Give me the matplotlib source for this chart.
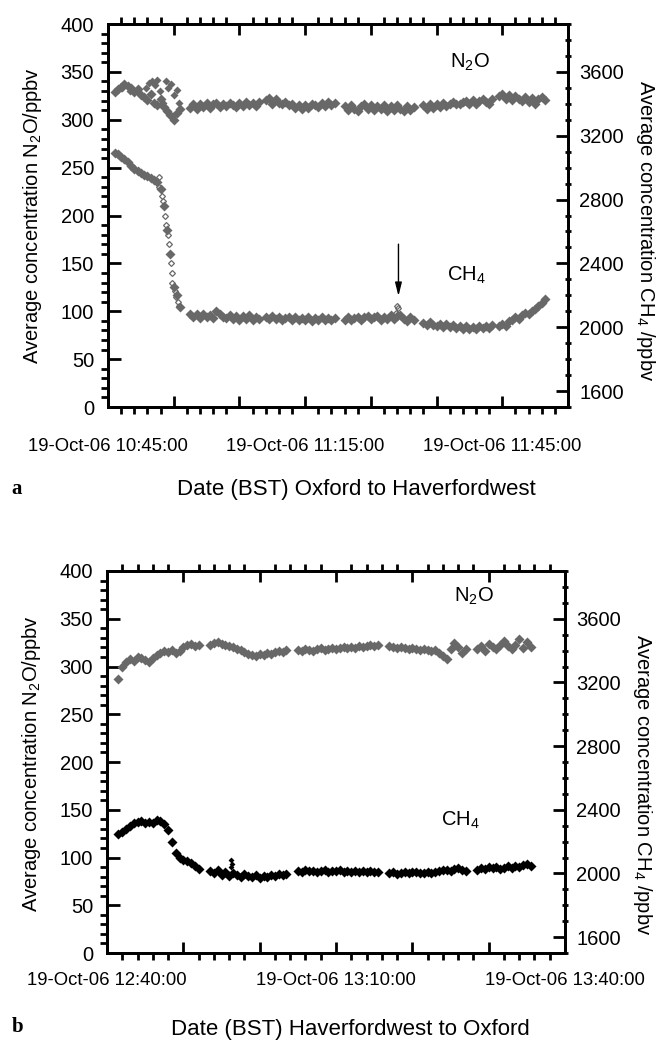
import numpy as np
import matplotlib
matplotlib.use("Agg")
import matplotlib.pyplot as plt
from matplotlib.ticker import MultipleLocator, FuncFormatter

plt.rcParams["font.family"] = ["Liberation Sans", "DejaVu Sans"]
plt.rcParams["mathtext.default"] = "regular"

STEP = 0.5  # minutes between samples

# ---- panel a: Oxford to Haverfordwest (minutes after 10:45) ----
a_start = [1.0, 12.5, 24.0, 36.0, 48.0, 59.5]
a_n2o = [
    [329, 332, 334, 337, 335, 333, 329, 332, 326, 324, 321, 327, 318, 315, 322, 313, 309, 305, 300, 307, 311],
    [312, 316, 311, 316, 313, 318, 312, 316, 318, 313, 317, 314, 318, 315, 313, 318, 314, 319, 315, 318, 314, 319],
    [321, 323, 317, 322, 318, 316, 319, 315, 316, 312, 315, 311, 315, 312, 316, 315, 313, 318, 314, 319, 315, 318],
    [314, 310, 315, 311, 309, 314, 316, 311, 315, 310, 314, 311, 315, 309, 314, 310, 315, 311, 309, 314, 310, 313],
    [315, 311, 316, 312, 317, 313, 318, 314, 317, 319, 316, 317, 319, 320, 316, 321, 317, 320, 322, 319, 317, 322],
    [325, 327, 322, 326, 321, 325, 322, 320, 324, 319, 323, 317, 322, 324, 321],
]
a_n2o_extra_t = [2.2, 3.3, 4.6, 5.8, 6.3, 6.7, 7.1, 7.5, 7.9, 8.3, 8.8, 9.2, 9.6, 9.9, 10.1, 10.5, 10.8]
a_n2o_extra = [333, 330, 329, 333, 338, 341, 336, 342, 330, 318, 340, 333, 337, 304, 326, 331, 318]

a_ch4 = [
    [3090, 3084, 3066, 3054, 3036, 3012, 2994, 2976, 2964, 2952, 2946, 2934, 2922, 2910, 2868, 2760, 2610, 2460, 2250, 2202, 2124],
    [2084, 2066, 2080, 2060, 2082, 2066, 2078, 2058, 2104, 2080, 2062, 2058, 2074, 2052, 2068, 2048, 2070, 2054, 2076, 2046, 2064, 2050],
    [2066, 2054, 2070, 2050, 2064, 2046, 2060, 2066, 2048, 2062, 2044, 2060, 2048, 2064, 2042, 2058, 2046, 2062, 2044, 2058, 2046, 2060],
    [2048, 2064, 2044, 2060, 2066, 2046, 2062, 2068, 2050, 2064, 2070, 2048, 2066, 2054, 2074, 2052, 2068, 2076, 2050, 2042, 2062, 2046],
    [2028, 2012, 2034, 2016, 2008, 2022, 2004, 2018, 2000, 2014, 1996, 2010, 1992, 2006, 1990, 2004, 1992, 2008, 1994, 2010, 1996, 2012],
    [2006, 2022, 2010, 2038, 2046, 2062, 2050, 2076, 2092, 2082, 2102, 2114, 2132, 2152, 2174],
]
a_ch4_extra_t = [7.7, 7.8, 8.2, 8.3, 8.7, 8.8, 9.2, 9.3, 9.6, 9.7, 9.8, 10.2, 10.3, 10.7, 10.8, 43.8, 44.0, 44.1]
a_ch4_extra = [2940, 2880, 2820, 2790, 2700, 2640, 2580, 2520, 2400, 2340, 2280, 2230, 2190, 2160, 2130, 2090, 2136, 2120]

# ---- panel b: Haverfordwest to Oxford (minutes after 12:40) ----
b_start = [1.5, 13.5, 25.0, 37.0, 48.5]
b_n2o = [
    [287, 299, 305, 308, 306, 310, 309, 307, 305, 309, 312, 314, 316, 315, 317, 314, 316, 320, 323, 324, 321, 322],
    [322, 325, 326, 324, 323, 321, 320, 318, 317, 315, 313, 312, 311, 313, 312, 314, 313, 315, 316, 315, 317],
    [317, 316, 318, 317, 316, 318, 319, 317, 318, 319, 318, 319, 320, 319, 320, 319, 321, 320, 321, 322, 321, 323],
    [321, 320, 319, 320, 319, 318, 319, 318, 317, 318, 317, 316, 317, 314, 311, 308, 318, 325, 320, 314, 318],
    [318, 321, 316, 324, 320, 318, 322, 327, 321, 318, 322, 329, 319, 326, 320],
]
b_ch4 = [
    [2250, 2262, 2280, 2298, 2316, 2322, 2328, 2316, 2322, 2316, 2334, 2328, 2310, 2274, 2196, 2130, 2094, 2082, 2076, 2064, 2046, 2028],
    [2016, 2004, 2022, 1992, 2010, 1986, 2004, 1992, 1980, 1998, 1986, 1980, 1992, 1974, 1986, 1980, 1992, 1986, 1998, 1992, 1998],
    [2016, 2010, 2022, 2014, 2018, 2010, 2016, 2020, 2012, 2018, 2014, 2020, 2012, 2016, 2010, 2018, 2012, 2016, 2008, 2014, 2010, 2012],
    [2002, 2006, 1998, 2004, 2008, 2002, 2010, 2006, 2004, 2000, 2008, 2004, 2010, 2016, 2024, 2020, 2014, 2030, 2036, 2024, 2018],
    [2024, 2036, 2030, 2040, 2034, 2042, 2028, 2036, 2044, 2032, 2046, 2040, 2052, 2058, 2046],
]
b_ch4_extra_t = [16.25, 16.3, 16.35]
b_ch4_extra = [2040, 2082, 2058]

GRAY = "#686868"
MS = 5.2


def flatten(starts, segs):
    t, v = [], []
    for s, vals in zip(starts, segs):
        t.extend(s + STEP * np.arange(len(vals)))
        v.extend(vals)
    return np.array(t), np.array(v)


def time_fmt(h0, m0, shown):
    def f(x, pos):
        if int(round(x)) not in shown:
            return ""
        tot = h0 * 60 + m0 + int(round(x))
        return "19-Oct-06 %02d:%02d:00" % (tot // 60, tot % 60)
    return FuncFormatter(f)


def style(ax, ax2, xmax, h0, m0, xpad):
    ax.set_xlim(0, xmax)
    ax.set_ylim(0, 400)
    ax2.set_ylim(1500, 3900)
    ax.xaxis.set_major_locator(MultipleLocator(10))
    ax.xaxis.set_minor_locator(MultipleLocator(2))
    ax.xaxis.set_major_formatter(time_fmt(h0, m0, [0, 30, 60]))
    ax.yaxis.set_major_locator(MultipleLocator(50))
    ax.yaxis.set_minor_locator(MultipleLocator(10))
    ax2.yaxis.set_minor_locator(MultipleLocator(100))
    ax2.set_yticks([1600, 2000, 2400, 2800, 3200, 3600])
    for a in (ax, ax2):
        for sp in a.spines.values():
            sp.set_linewidth(2)
    ax.tick_params(axis="x", which="major", direction="in", length=8, width=2,
                   top=True, labelsize=13.3, pad=xpad)
    ax.tick_params(axis="x", which="minor", direction="out", length=5, width=2, top=True)
    ax.tick_params(axis="y", which="major", direction="in", length=9, width=2,
                   right=False, labelsize=14.5, pad=10)
    ax.tick_params(axis="y", which="minor", direction="out", length=5, width=2, right=False)
    ax2.tick_params(axis="y", which="major", direction="in", length=9, width=2,
                    labelsize=14.5, pad=8)
    ax2.tick_params(axis="y", which="minor", direction="inout", length=5, width=2)


fig = plt.figure(figsize=(6.61, 10.41), dpi=100)

# panel a
ax = fig.add_axes([0.1634, 0.6090, 0.6959, 0.3679])
ax2 = ax.twinx()
t, v = flatten(a_start, a_n2o)
ax.plot(t, v, "D", ms=MS, color=GRAY, mec="none")
ax.plot(a_n2o_extra_t, a_n2o_extra, "D", ms=3.8, color=GRAY, mec="none")
t, v = flatten(a_start, a_ch4)
ax2.plot(t, v, "D", ms=MS, color=GRAY, mec="none")
ax2.plot(a_ch4_extra_t, a_ch4_extra, "D", ms=3, mfc="none", mec=GRAY, mew=0.9)
style(ax, ax2, 70, 10, 45, 22)
ax.text(55.1, 360, "N$_2$O", fontsize=14.5, ha="center", va="center")
ax.text(54.5, 138, "CH$_4$", fontsize=14.5, ha="center", va="center")
ax.annotate("", xy=(44.2, 113), xytext=(44.2, 173),
            arrowprops=dict(arrowstyle="-|>,head_width=0.2,head_length=0.8",
                            color="black", lw=1))
ax.set_ylabel("Average concentration N$_2$O/ppbv", fontsize=14.5)
ax.yaxis.set_label_coords(-0.139, 0.50)
ax2.set_ylabel("Average concentration CH$_4$ /ppbv", fontsize=14.5, rotation=270, va="bottom")
ax2.yaxis.set_label_coords(1.143, 0.46)
fig.text(17 / 661, 1 - 489 / 1041, "a", fontsize=15, fontweight="bold",
         family="Liberation Serif", ha="center", va="center")
fig.text(356 / 661, 1 - 489 / 1041, "Date (BST) Oxford to Haverfordwest",
         fontsize=16, ha="center", va="center")

# panel b
bx = fig.add_axes([0.1619, 0.0845, 0.6929, 0.3670])
bx2 = bx.twinx()
t, v = flatten(b_start, b_n2o)
bx.plot(t, v, "D", ms=MS, color=GRAY, mec="none")
t, v = flatten(b_start, b_ch4)
bx2.plot(t, v, "D", ms=MS, color="black", mec="none")
bx2.plot(b_ch4_extra_t, b_ch4_extra, "D", ms=3, color="black", mec="none")
style(bx, bx2, 60, 12, 40, 14)
bx.text(48.1, 373, "N$_2$O", fontsize=14.5, ha="center", va="center")
bx.text(46.3, 139, "CH$_4$", fontsize=14.5, ha="center", va="center")
bx.set_ylabel("Average concentration N$_2$O/ppbv", fontsize=14.5)
bx.yaxis.set_label_coords(-0.139, 0.495)
bx2.set_ylabel("Average concentration CH$_4$ /ppbv", fontsize=14.5, rotation=270, va="bottom")
bx2.yaxis.set_label_coords(1.143, 0.44)
fig.text(18 / 661, 1 - 1027 / 1041, "b", fontsize=15, fontweight="bold",
         family="Liberation Serif", ha="center", va="center")
fig.text(350 / 661, 1 - 1030 / 1041, "Date (BST) Haverfordwest to Oxford",
         fontsize=16, ha="center", va="center")

fig.savefig("out.png", dpi=100)
